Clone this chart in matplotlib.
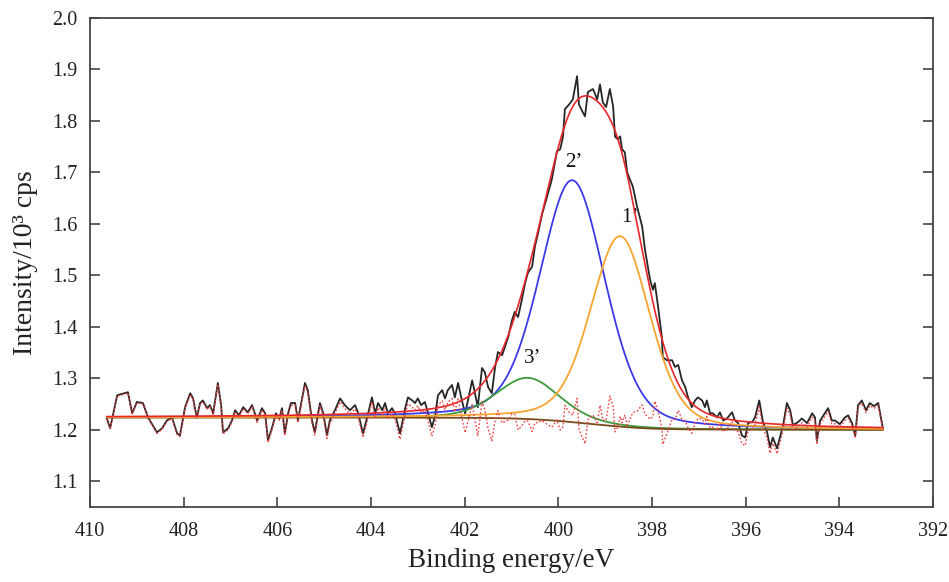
import numpy as np
import matplotlib
matplotlib.use("Agg")
import matplotlib.pyplot as plt

# ---------------- data ----------------
energy = [409.64, 409.57, 409.42, 409.19, 409.10, 409.00, 408.87, 408.76, 408.57, 408.46,
          408.36, 408.25, 408.14, 408.08, 407.97, 407.86, 407.80, 407.72, 407.65, 407.59,
          407.50, 407.44, 407.37, 407.27, 407.20, 407.16, 407.05, 406.97, 406.90, 406.82,
          406.73, 406.63, 406.54, 406.43, 406.33, 406.26, 406.20, 406.11, 406.03, 405.96,
          405.90, 405.84, 405.77, 405.71, 405.62, 405.56, 405.41, 405.35, 405.26, 405.20,
          405.09, 405.02, 404.94, 404.88, 404.77, 404.66, 404.56, 404.45, 404.34, 404.28,
          404.17, 404.06, 403.98, 403.91, 403.85, 403.76, 403.70, 403.64, 403.55, 403.49,
          403.38, 403.27, 403.21, 403.12, 403.06, 403.00, 402.93, 402.85, 402.78, 402.70,
          402.63, 402.57, 402.48, 402.42, 402.36, 402.27, 402.21, 402.14, 402.06, 401.99,
          401.93, 401.84, 401.78, 401.72, 401.63, 401.57, 401.50, 401.42, 401.35, 401.29,
          401.20, 401.14, 401.07, 400.99, 400.93, 400.86, 400.78, 400.71, 400.65, 400.56,
          400.50, 400.43, 400.35, 400.24, 400.14, 400.03, 399.96, 399.90, 399.86, 399.77,
          399.69, 399.60, 399.56, 399.49, 399.43, 399.37, 399.26, 399.17, 399.11, 399.05,
          398.98, 398.90, 398.83, 398.79, 398.73, 398.68, 398.64, 398.58, 398.53, 398.47,
          398.41, 398.32, 398.21, 398.15, 398.04, 397.98, 397.94, 397.87, 397.79, 397.77,
          397.68, 397.57, 397.51, 397.44, 397.36, 397.29, 397.23, 397.15, 397.08, 397.02,
          396.93, 396.87, 396.83, 396.76, 396.70, 396.61, 396.55, 396.48, 396.40, 396.29,
          396.23, 396.16, 396.08, 396.01, 395.95, 395.86, 395.80, 395.71, 395.63, 395.54,
          395.48, 395.42, 395.33, 395.27, 395.20, 395.12, 395.05, 394.99, 394.88, 394.80,
          394.69, 394.58, 394.52, 394.48, 394.41, 394.31, 394.24, 394.16, 394.09, 393.99,
          393.88, 393.81, 393.73, 393.66, 393.60, 393.52, 393.43, 393.35, 393.26, 393.17,
          393.09, 393.07]
intensity = [1.222, 1.203, 1.267, 1.273, 1.232, 1.254, 1.252, 1.224, 1.195, 1.203,
             1.218, 1.224, 1.193, 1.189, 1.244, 1.271, 1.261, 1.224, 1.252, 1.257,
             1.242, 1.248, 1.232, 1.291, 1.248, 1.195, 1.203, 1.218, 1.238, 1.228,
             1.244, 1.234, 1.248, 1.218, 1.242, 1.232, 1.179, 1.205, 1.232, 1.222,
             1.242, 1.193, 1.232, 1.252, 1.252, 1.218, 1.291, 1.277, 1.218, 1.195,
             1.252, 1.232, 1.189, 1.218, 1.238, 1.261, 1.248, 1.238, 1.248, 1.234,
             1.193, 1.232, 1.263, 1.232, 1.252, 1.238, 1.252, 1.232, 1.242, 1.232,
             1.193, 1.242, 1.263, 1.257, 1.252, 1.261, 1.248, 1.254, 1.232, 1.205,
             1.228, 1.267, 1.277, 1.261, 1.277, 1.287, 1.263, 1.291, 1.257, 1.232,
             1.257, 1.296, 1.271, 1.244, 1.320, 1.312, 1.283, 1.271, 1.322, 1.351,
             1.345, 1.361, 1.380, 1.413, 1.429, 1.419, 1.452, 1.485, 1.505, 1.517,
             1.556, 1.583, 1.618, 1.653, 1.686, 1.741, 1.745, 1.770, 1.823, 1.832,
             1.842, 1.887, 1.832, 1.819, 1.809, 1.856, 1.862, 1.842, 1.871, 1.836,
             1.827, 1.862, 1.828, 1.770, 1.764, 1.770, 1.745, 1.739, 1.700, 1.686,
             1.673, 1.634, 1.595, 1.550, 1.491, 1.472, 1.485, 1.439, 1.380, 1.341,
             1.335, 1.335, 1.322, 1.326, 1.296, 1.283, 1.263, 1.244, 1.257, 1.263,
             1.257, 1.244, 1.257, 1.232, 1.232, 1.224, 1.234, 1.218, 1.222, 1.234,
             1.218, 1.213, 1.189, 1.185, 1.213, 1.215, 1.224, 1.257, 1.215, 1.195,
             1.166, 1.185, 1.164, 1.185, 1.209, 1.252, 1.238, 1.209, 1.215, 1.222,
             1.213, 1.232, 1.224, 1.179, 1.218, 1.232, 1.242, 1.218, 1.218, 1.211,
             1.224, 1.228, 1.213, 1.189, 1.248, 1.257, 1.238, 1.252, 1.246, 1.252,
             1.213, 1.203]

# fitted components: label, centre (eV), height (10^3 cps), FWHM (eV), colour
peak_labels = ["1\u2019", "2\u2019", "3\u2019"]
peak_centres = [398.68, 399.70, 400.65]
peak_heights = [0.370, 0.470, 0.080]
peak_fwhm = [1.50, 1.65, 1.60]
peak_colors = ["#f7a531", "#3a3ae8", "#3c9a3c"]
lorentz_fraction = 0.3
background_high = 1.224   # high binding-energy side
background_low = 1.200    # low binding-energy side

# ---------------- model ----------------
energy = np.array(energy)
intensity = np.array(intensity)


def gl(x, c, h, w):
    s = w / 2.3548
    g = np.exp(-(x - c) ** 2 / (2 * s * s))
    lo = 1.0 / (1.0 + ((x - c) / (w / 2)) ** 2)
    return h * ((1 - lorentz_fraction) * g + lorentz_fraction * lo)


grid = np.linspace(energy.min(), energy.max(), 1200)
peaks_grid = [gl(grid, c, h, w) for c, h, w in zip(peak_centres, peak_heights, peak_fwhm)]
total_grid = np.sum(peaks_grid, axis=0)
cum = np.cumsum(total_grid)
cum = cum / cum[-1]
bg_grid = background_low + (background_high - background_low) * cum

peaks_data = np.sum([gl(energy, c, h, w) for c, h, w in zip(peak_centres, peak_heights, peak_fwhm)], axis=0)
residual = intensity - peaks_data

# ---------------- plot ----------------
plt.rcParams['font.family'] = ['Liberation Serif', 'DejaVu Serif']
fig = plt.figure(figsize=(9.49, 5.82), dpi=100)
ax = fig.add_axes([90 / 949, 1 - 507 / 582, 843 / 949, 489 / 582])

ax.plot(energy, intensity, color="#262626", lw=1.3, zorder=2)
for pg, col in zip([peaks_grid[1], peaks_grid[2]], [peak_colors[1], peak_colors[2]]):
    ax.plot(grid, bg_grid + pg, color=col, lw=1.3, zorder=3)
ax.plot(grid, bg_grid, color="#7a4a1a", lw=1.3, zorder=3)
ax.plot(grid, bg_grid + peaks_grid[0], color=peak_colors[0], lw=1.3, zorder=3)
ax.plot(grid, bg_grid + total_grid, color="#e8262a", lw=1.2, zorder=4)
ax.plot(energy, residual, color="#f04040", lw=1.0, ls=(0, (1.2, 1.5)), zorder=5)

label_pos = [(398.48, 1.612), (399.68, 1.72), (400.55, 1.339)]
for lab, (x, y) in zip(peak_labels, label_pos):
    ax.text(x, y, lab, fontsize=15, ha="center", va="center", color="#111111")

ax.set_xlim(410, 392)
ax.set_ylim(1.05, 2.0)
ax.set_xticks(np.arange(410, 391, -2))
ax.set_xticklabels([str(v) for v in range(410, 391, -2)])
ax.set_yticks(np.round(np.arange(1.1, 2.01, 0.1), 1))
ax.set_yticklabels([f"{v:.1f}" for v in np.arange(1.1, 2.01, 0.1)])
ax.tick_params(direction="in", length=7, width=1.1, right=True, top=False,
               labelsize=14.5, colors="#333333", labelcolor="#222222")
ax.tick_params(axis="x", pad=11)
ax.tick_params(axis="y", pad=9)
for sp in ax.spines.values():
    sp.set_color("#444444")
    sp.set_linewidth(1.3)

ax.set_xlabel("Binding energy/eV", fontsize=19.5, labelpad=5, color="#222222")
ax.set_ylabel("Intensity/10\u00b3 cps", fontsize=20, labelpad=10, color="#222222")

fig.savefig("out.png", dpi=100)
